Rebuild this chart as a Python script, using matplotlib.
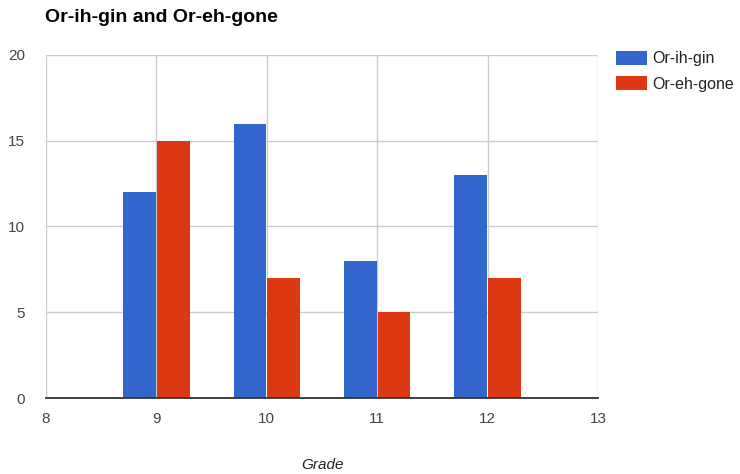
import matplotlib
matplotlib.use("Agg")
import matplotlib.pyplot as plt
import numpy as np

plt.rcParams['font.family'] = ['Liberation Sans', 'DejaVu Sans']

grades = [9, 10, 11, 12]
origin_counts = [12, 16, 8, 13]
oregon_counts = [15, 7, 5, 7]
series_names = ["Or-ih-gin", "Or-eh-gone"]
colors = ["#3366CC", "#DC3912"]
x_ticks = [8, 9, 10, 11, 12, 13]
y_ticks = [0, 5, 10, 15, 20]

fig = plt.figure(figsize=(7.4, 4.74), dpi=100)
ax = fig.add_axes([46 / 740, 1 - 398 / 474, (598 - 46) / 740, (398 - 55) / 474])

x = np.array(grades, dtype=float)
bw = 0.297
gap = 0.004
ax.bar(x - gap, origin_counts, width=-bw, align='edge', color=colors[0],
       label=series_names[0], zorder=2)
ax.bar(x + gap, oregon_counts, width=bw, align='edge', color=colors[1],
       label=series_names[1], zorder=2)

ax.set_xlim(8, 13)
ax.set_ylim(0, 20)
ax.set_xticks(x_ticks)
ax.set_yticks(y_ticks)
ax.grid(True, color="#cccccc", linewidth=1.0, zorder=0)
ax.set_axisbelow(True)
for side in ("left", "right", "top"):
    ax.spines[side].set_visible(False)
ax.spines["bottom"].set_color("#333333")
ax.spines["bottom"].set_linewidth(1.3)
ax.spines["bottom"].set_zorder(3)
ax.tick_params(axis="both", length=0, labelsize=11, labelcolor="#444444")
ax.tick_params(axis="x", pad=10)
ax.tick_params(axis="y", pad=15)

fig.text(45 / 740, 1 - 18 / 474, "Or-ih-gin and Or-eh-gone", fontsize=14,
         fontweight="bold", color="#000000", va="center", ha="left")
fig.text(322 / 740, 1 - 465 / 474, "Grade", fontsize=11, style="italic",
         color="#222222", ha="center", va="center")

leg = ax.legend(loc="upper left", bbox_to_anchor=(616 / 740, 1 - 51 / 474),
                bbox_transform=fig.transFigure, frameon=False, fontsize=11.5,
                handlelength=1.95, handleheight=0.95, handletextpad=0.35,
                labelspacing=0.62, borderaxespad=0, borderpad=0)
for t in leg.get_texts():
    t.set_color("#222222")

fig.savefig("out.png", dpi=100)
